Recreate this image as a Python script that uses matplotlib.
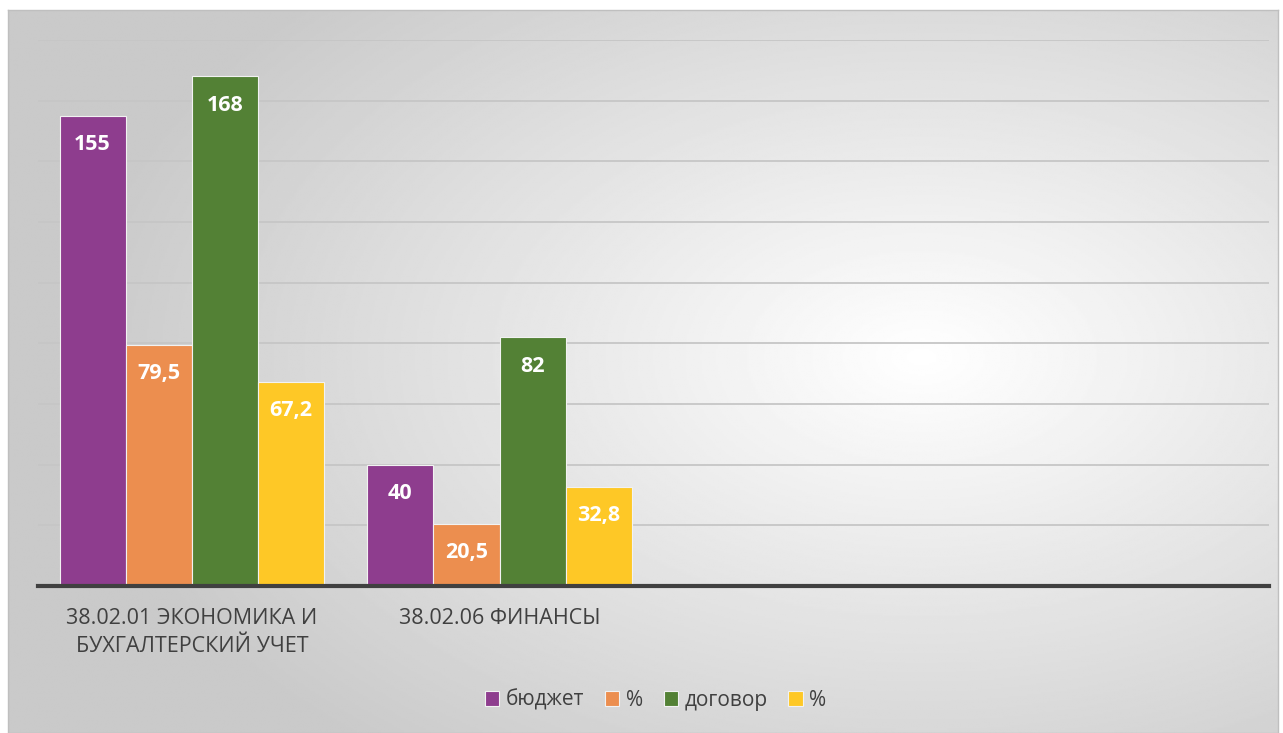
import numpy as np
import matplotlib.pyplot as plt

plt.rcParams['font.family'] = ['Open Sans', 'DejaVu Sans']

# data
categories = ['38.02.01 ЭКОНОМИКА И\nБУХГАЛТЕРСКИЙ УЧЕТ', '38.02.06 ФИНАНСЫ', '', '']
series_names = ['бюджет', '%', 'договор', '%']
budget = [155, 40, np.nan, np.nan]
budget_pct = [79.5, 20.5, np.nan, np.nan]
contract = [168, 82, np.nan, np.nan]
contract_pct = [67.2, 32.8, np.nan, np.nan]
labels = [['155', '40'], ['79,5', '20,5'], ['168', '82'], ['67,2', '32,8']]
colors = ['#8E3D8E', '#EC8E4F', '#538135', '#FEC826']

W, H = 1283, 733
fig = plt.figure(figsize=(W / 100, H / 100), dpi=100)

# radial gradient background inside a thin grey frame
bg = fig.add_axes([8 / W, 0, 1270 / W, 723 / H])
yy, xx = np.mgrid[0:1:400j, 0:1:700j]
r = np.sqrt(((xx - 0.72) / 0.8) ** 2 + ((yy - 0.52) / 0.85) ** 2)
g = np.clip(1 - 0.25 * r, 0.79, 1)
bg.imshow(g, cmap='gray', vmin=0, vmax=1, aspect='auto', origin='lower',
          extent=[0, 1, 0, 1])
bg.set_xticks([])
bg.set_yticks([])
for s in bg.spines.values():
    s.set_color('#bfbfbf')
    s.set_linewidth(1)

ax = fig.add_axes([38 / W, (H - 586) / H, 1231 / W, 546 / H])
ax.patch.set_alpha(0)

x = np.arange(len(categories))
w = 0.215
all_series = [budget, budget_pct, contract, contract_pct]
for i, (vals, c, name) in enumerate(zip(all_series, colors, series_names)):
    pos = x + (i - 1.5) * w
    bars = ax.bar(pos, vals, width=w, color=c, edgecolor='#f2f2f2',
                  linewidth=0.8, label=name, zorder=3)
    for j, v in enumerate(vals):
        if np.isnan(v):
            continue
        ax.text(pos[j], v - 9.5, labels[i][j], ha='center', va='center',
                color='white', fontsize=15.5, fontweight='bold', zorder=4)

ax.set_xlim(-0.5, 3.5)
ax.set_ylim(0, 180)
ax.set_yticks(np.arange(20, 181, 20))
ax.yaxis.grid(True, color='#c6c6c6', linewidth=1.3, zorder=0)
ax.tick_params(axis='y', length=0, labelleft=False)
ax.set_xticks(x)
ax.set_xticklabels(categories, fontsize=15.5, color='#404040', linespacing=1.4)
ax.tick_params(axis='x', length=0, pad=16)
for side in ['top', 'right', 'left']:
    ax.spines[side].set_visible(False)
ax.spines['bottom'].set_color('#404040')
ax.spines['bottom'].set_linewidth(3)
ax.spines['bottom'].set_zorder(5)

fig.legend(loc='center', bbox_to_anchor=(0.511, 0.045), ncol=4, frameon=False,
           fontsize=15, handlelength=0.7, handleheight=0.7, handletextpad=0.3,
           columnspacing=1.0, labelcolor='#404040')

fig.savefig('out.png', dpi=100, facecolor='white')
